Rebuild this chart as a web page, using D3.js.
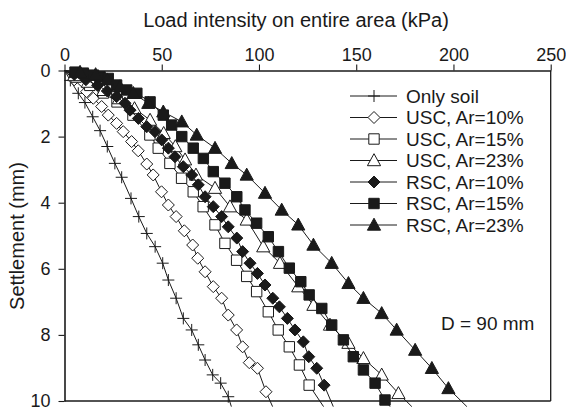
<!DOCTYPE html>
<html>
<head>
<meta charset="utf-8">
<script src="https://cdn.jsdelivr.net/npm/d3@7"></script>
<style>
  html, body { margin: 0; padding: 0; background: #fff; }
  svg text { font-family: "Liberation Sans", Arial, Helvetica, sans-serif; fill: #1a1a1a; }
</style>
</head>
<body>
<svg id="chart" width="566" height="410"></svg>
<script>
// Load (kPa) vs settlement (mm), pairs [load, settlement]
const onlySoil = [[0,0],[3,0.3],[7.1,0.69],[10.5,0.97],[14.5,1.40],[18.3,1.82],[22,2.3],[25.9,2.81],[29.4,3.23],[34.2,3.87],[38.2,4.42],[42.3,4.93],[46.6,5.33],[50.5,5.83],[53.4,6.34],[57.4,6.89],[61.1,7.50],[65.4,7.85],[68.8,8.30],[72.3,8.76],[76.2,9.21],[80.3,9.46],[84.2,9.87],[85.8,10.17]];
const usc10 = [[0,0],[5,0.28],[11.4,0.64],[14.8,0.84],[19.1,1.09],[22.5,1.35],[26.8,1.60],[30.2,1.85],[34.5,2.15],[37.9,2.43],[42.3,2.83],[45.6,3.16],[49.9,3.67],[53.4,4.07],[57.4,4.42],[61.6,4.85],[65.9,5.28],[68.5,5.68],[72.3,6.09],[76.5,6.54],[80.8,6.89],[84.2,7.40],[88.5,7.85],[91.6,8.36],[95.0,8.84],[99.2,9.01],[103.6,9.72],[107.0,10.17]];
const usc15 = [[0,0],[6,0.2],[13,0.45],[20,0.68],[27,0.95],[35.2,1.35],[43.9,1.95],[48.2,2.35],[54.2,2.81],[60.2,3.26],[66.2,3.67],[71.3,4.12],[77.4,4.67],[82.5,5.23],[88.5,5.74],[93.7,6.23],[98.8,6.69],[104.8,7.30],[109.9,7.85],[115.6,8.36],[120.8,8.91],[125.8,9.52],[133.2,10.17]];
const usc23 = [[0,0],[5,0.15],[12,0.35],[20,0.6],[28,0.85],[36,1.15],[44,1.5],[51,1.9],[57,2.3],[62,2.7],[67.6,3.16],[77.4,3.56],[85.1,4.12],[93.7,4.52],[102.2,5.33],[110.8,5.83],[120.2,6.54],[128,7.10],[136.5,7.70],[146,8.25],[153.7,8.71],[163.1,9.21],[171.7,9.77],[178.6,10.17]];
const rsc10 = [[0,0],[5,0.12],[11,0.28],[17,0.45],[22,0.62],[26.8,0.79],[31.1,0.99],[33.7,1.20],[38.0,1.45],[42.3,1.70],[46.5,1.85],[50.0,2.10],[53.4,2.35],[56.8,2.61],[61.1,2.91],[65.4,3.16],[68.8,3.46],[72.3,3.82],[76.5,4.12],[80.8,4.42],[84.2,4.73],[88.6,5.07],[91.6,5.48],[95.4,5.83],[99.2,6.14],[103.1,6.49],[107.1,6.89],[110.5,7.15],[114.6,7.50],[118.5,7.85],[122.8,8.21],[125.6,8.66],[129.7,9.01],[133.5,9.52],[138.2,10.17]];
const rsc15 = [[0,0],[5.4,0.05],[9.7,0.08],[14.9,0.14],[18.3,0.19],[22.5,0.24],[26.8,0.44],[32,0.59],[37.2,0.69],[44,0.95],[50.8,1.35],[55.1,1.65],[60.3,2.0],[66.2,2.35],[71.4,2.66],[76.5,3.06],[82.5,3.41],[88.6,3.82],[92.8,4.22],[98.8,4.62],[104.8,5.03],[110,5.48],[115.6,5.98],[121.5,6.39],[125.8,6.79],[132.3,7.20],[137.4,7.70],[143.4,8.15],[148.5,8.66],[153.7,9.06],[159.7,9.46],[164.8,9.97],[167.4,10.17]];
const rsc23 = [[0,0],[8,0.05],[16,0.12],[22,0.28],[28.5,0.49],[35.4,0.69],[43.1,0.99],[50.8,1.25],[60.3,1.55],[68,1.95],[77.4,2.35],[86,2.81],[93.7,3.16],[103.1,3.71],[111.7,4.22],[120.2,4.67],[128,5.28],[137.4,5.83],[146,6.44],[153.7,6.89],[163.1,7.35],[170.8,7.85],[180.3,8.46],[188.9,9.01],[197.4,9.62],[206.9,10.17]];

const seriesNames = ["Only soil", "USC, Ar=10%", "USC, Ar=15%", "USC, Ar=23%", "RSC, Ar=10%", "RSC, Ar=15%", "RSC, Ar=23%"];
const seriesData = [onlySoil, usc10, usc15, usc23, rsc10, rsc15, rsc23];
const markerKinds = ["cross", "diamond", "square", "triangle", "diamond", "square", "triangle"];
const markerFilled = [false, false, false, false, true, true, true];

const xTicks = [0, 50, 100, 150, 200, 250];
const yTicks = [0, 2, 4, 6, 8, 10];

const xTitle = "Load intensity on entire area (kPa)";
const yTitle = "Settlement (mm)";
const note = "D = 90 mm";

const svg = d3.select("#chart");
const ink = "#1a1a1a";

const x = d3.scaleLinear().domain([0, 250]).range([64.5, 550.7]);
const y = d3.scaleLinear().domain([0, 10]).range([70.5, 401]);

// marker path builders, centred on 0,0
function markerPath(kind) {
  const p = d3.path();
  if (kind === "cross") {
    p.moveTo(-6, 0); p.lineTo(6, 0);
    p.moveTo(0, -6); p.lineTo(0, 6);
  } else if (kind === "diamond") {
    const r = 6;
    p.moveTo(0, -r); p.lineTo(r, 0); p.lineTo(0, r); p.lineTo(-r, 0); p.closePath();
  } else if (kind === "square") {
    const h = 5.2;
    p.rect(-h, -h, 2 * h, 2 * h);
  } else if (kind === "triangle") {
    p.moveTo(0, -6.8); p.lineTo(6.6, 5.2); p.lineTo(-6.6, 5.2); p.closePath();
  }
  return p.toString();
}

// frame: top axis with ticks, left axis with ticks, right and bottom borders
const xAxis = d3.axisTop(x).tickValues(xTicks).tickSize(6).tickPadding(4).tickSizeOuter(0);
const gx = svg.append("g").attr("transform", `translate(0,${y(0)})`).call(xAxis);
gx.select(".domain").attr("stroke", ink).attr("stroke-width", 1.3);
gx.selectAll(".tick line").attr("stroke", ink).attr("stroke-width", 1.1);
gx.selectAll(".tick text").attr("font-size", 18).attr("font-family", "Liberation Sans, Arial, sans-serif").attr("fill", ink);

const yAxis = d3.axisLeft(y).tickValues(yTicks).tickSize(6).tickPadding(8).tickSizeOuter(0);
const gy = svg.append("g").attr("transform", `translate(${x(0)},0)`).call(yAxis);
gy.select(".domain").attr("stroke", ink).attr("stroke-width", 1.6);
gy.selectAll(".tick line").attr("stroke", ink).attr("stroke-width", 1.1);
gy.selectAll(".tick text").attr("font-size", 18).attr("font-family", "Liberation Sans, Arial, sans-serif").attr("fill", ink);

svg.append("line").attr("x1", x(250)).attr("x2", x(250)).attr("y1", y(0)).attr("y2", y(10))
  .attr("stroke", ink).attr("stroke-width", 1.3);
svg.append("line").attr("x1", x(0)).attr("x2", x(250)).attr("y1", y(10)).attr("y2", y(10))
  .attr("stroke", ink).attr("stroke-width", 1.3);

// axis titles
svg.append("text").attr("x", 296).attr("y", 27).attr("text-anchor", "middle")
  .attr("font-size", 20).text(xTitle);
svg.append("text").attr("transform", `translate(24,${236}) rotate(-90)`).attr("text-anchor", "middle")
  .attr("font-size", 20).text(yTitle);

// curves and markers
const line = d3.line().x(d => x(d[0])).y(d => y(d[1]));
seriesData.forEach((data, i) => {
  const g = svg.append("g");
  g.append("path").attr("d", line(data)).attr("fill", "none").attr("stroke", ink).attr("stroke-width", 1);
  const path = markerPath(markerKinds[i]);
  g.selectAll("path.m").data(data.slice(1, -1)).enter().append("path")
    .attr("class", "m")
    .attr("transform", d => `translate(${x(d[0])},${y(d[1])})`)
    .attr("d", path)
    .attr("fill", markerKinds[i] === "cross" ? "none" : (markerFilled[i] ? ink : "#fff"))
    .attr("stroke", ink).attr("stroke-width", 1);
});

// legend
const lg = svg.append("g");
seriesNames.forEach((name, i) => {
  const ly = 96 + i * 21.5;
  lg.append("line").attr("x1", 350).attr("x2", 397).attr("y1", ly).attr("y2", ly)
    .attr("stroke", ink).attr("stroke-width", 1);
  lg.append("path").attr("transform", `translate(374,${ly})`).attr("d", markerPath(markerKinds[i]))
    .attr("fill", markerKinds[i] === "cross" ? "none" : (markerFilled[i] ? ink : "#fff"))
    .attr("stroke", ink).attr("stroke-width", 1);
  lg.append("text").attr("x", 406).attr("y", ly + 6.8).attr("font-size", 19).text(name);
});

svg.append("text").attr("x", 441).attr("y", 330).attr("font-size", 19).text(note);
</script>
</body>
</html>
